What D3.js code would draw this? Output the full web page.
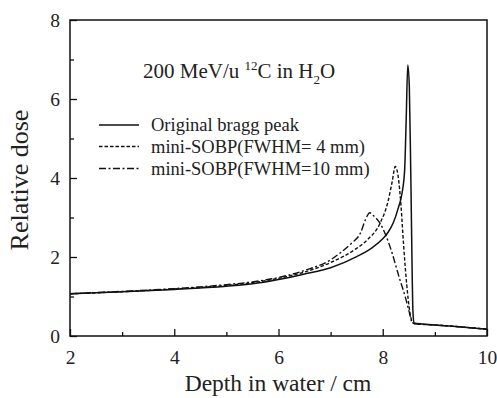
<!DOCTYPE html>
<html><head><meta charset="utf-8">
<script src="https://cdn.jsdelivr.net/npm/d3@7"></script>
<style>body{margin:0;background:#fff}svg{display:block}</style>
</head><body><svg id="c" width="497" height="398"></svg>
<script>
const xTicks = [2,4,6,8,10];
const xMinor = [3,5,7,9];
const yTicks = [0,2,4,6,8];
const yMinor = [1,3,5,7];

const origDepth = [2,3,4,5,5.5,6,6.5,7,7.5,7.8,8.0,8.1,8.2,8.3,8.37,8.42,8.45,8.48,8.51,8.54,8.58,8.6,9.0,9.5,10];
const origDose  = [1.07,1.12,1.18,1.26,1.32,1.43,1.57,1.73,2.01,2.24,2.46,2.62,2.86,3.25,3.62,4.2,5.5,6.86,6.3,3.9,0.6,0.33,0.28,0.23,0.17];

const sobp4Depth = [2,3,4,5,5.5,6,6.5,7,7.5,7.7,7.95,8.1,8.18,8.24,8.3,8.35,8.4,8.46,8.52,8.58,8.62,9.0,9.5,10];
const sobp4Dose  = [1.07,1.12,1.19,1.28,1.35,1.46,1.62,1.86,2.22,2.43,2.86,3.4,3.9,4.29,4.0,3.3,2.3,1.3,0.6,0.33,0.31,0.28,0.23,0.17];

const sobp10Depth = [2,3,4,5,5.5,6,6.5,7,7.2,7.4,7.57,7.67,7.75,7.82,7.95,8.14,8.33,8.43,8.5,8.57,8.62,9.0,9.5,10];
const sobp10Dose  = [1.07,1.13,1.20,1.30,1.37,1.48,1.66,1.93,2.12,2.35,2.60,2.95,3.12,3.05,2.85,2.26,1.42,1.0,0.65,0.33,0.31,0.28,0.23,0.17];

const seriesNames = ["Original bragg peak","mini-SOBP(FWHM= 4 mm)","mini-SOBP(FWHM=10 mm)"];
const dashes = [null,"3.5,2","7,2.5,2,2.5"];

const FONT = '"Liberation Serif","Times New Roman",serif';
const svg = d3.select("#c");
const L=70,R=487,T=20,B=336;
const x = d3.scaleLinear().domain([2,10]).range([L,R]);
const y = d3.scaleLinear().domain([0,8]).range([B,T]);

const series = [
  origDepth.map((d,i)=>[d,origDose[i]]),
  sobp4Depth.map((d,i)=>[d,sobp4Dose[i]]),
  sobp10Depth.map((d,i)=>[d,sobp10Dose[i]])
];
const line = d3.line().x(d=>x(d[0])).y(d=>y(d[1])).curve(d3.curveMonotoneX);
svg.append("g").selectAll("path").data(series).join("path")
  .attr("d",line).attr("fill","none").attr("stroke","#111")
  .attr("stroke-width",(d,i)=>i===0?1.5:1.4)
  .attr("stroke-dasharray",(d,i)=>dashes[i]);

// axes
const gx = svg.append("g").attr("transform",`translate(0,${B})`)
  .call(d3.axisBottom(x).tickValues(xTicks).tickSizeInner(-7).tickSizeOuter(0).tickPadding(14).tickFormat(d3.format("d")));
const gxm = svg.append("g").attr("transform",`translate(0,${B})`)
  .call(d3.axisBottom(x).tickValues(xMinor).tickSizeInner(-4).tickSizeOuter(0).tickFormat(""));
const gy = svg.append("g").attr("transform",`translate(${L},0)`)
  .call(d3.axisLeft(y).tickValues(yTicks).tickSizeInner(-7).tickSizeOuter(0).tickPadding(10).tickFormat(d3.format("d")));
const gym = svg.append("g").attr("transform",`translate(${L},0)`)
  .call(d3.axisLeft(y).tickValues(yMinor).tickSizeInner(-4).tickSizeOuter(0).tickFormat(""));
[gx,gxm,gy,gym].forEach(g=>{
  g.attr("font-family",null).attr("font-size",null);
  g.select(".domain").remove();
  g.selectAll("line").attr("stroke","#111").attr("stroke-width",1.3);
  g.selectAll("text").style("font-size","19.5px").style("font-family",FONT).attr("fill","#222");
});
svg.append("rect").attr("x",L).attr("y",T).attr("width",R-L).attr("height",B-T)
  .attr("fill","none").attr("stroke","#111").attr("stroke-width",1.5);

// axis titles
svg.append("text").attr("x",278).attr("y",391).attr("text-anchor","middle")
  .style("font-family",FONT).style("font-size","23.5px").attr("fill","#222").text("Depth in water / cm");
svg.append("text").attr("transform",`translate(28,${(T+B)/2+2}) rotate(-90)`).attr("text-anchor","middle")
  .style("font-family",FONT).style("font-size","26px").attr("fill","#222").text("Relative dose");

// title
const tt = svg.append("text").attr("x",143).attr("y",78).style("font-family",FONT).style("font-size","21px").attr("fill","#222");
tt.append("tspan").text("200 MeV/u ");
tt.append("tspan").style("font-size","13px").attr("dy",-8).text("12");
tt.append("tspan").attr("dy",8).text("C in H");
tt.append("tspan").style("font-size","13px").attr("dy",6).text("2");
tt.append("tspan").attr("dy",-6).text("O");

// legend
const ly = [125,146.5,168.5];
const lg = svg.append("g");
seriesNames.forEach((n,i)=>{
  lg.append("line").attr("x1",99).attr("x2",139).attr("y1",ly[i]).attr("y2",ly[i])
    .attr("stroke","#111").attr("stroke-width",1.4).attr("stroke-dasharray",dashes[i]);
  lg.append("text").attr("x",151).attr("y",ly[i]+6).style("font-family",FONT).style("font-size","18.5px").attr("fill","#222").text(n);
});
</script></body></html>
